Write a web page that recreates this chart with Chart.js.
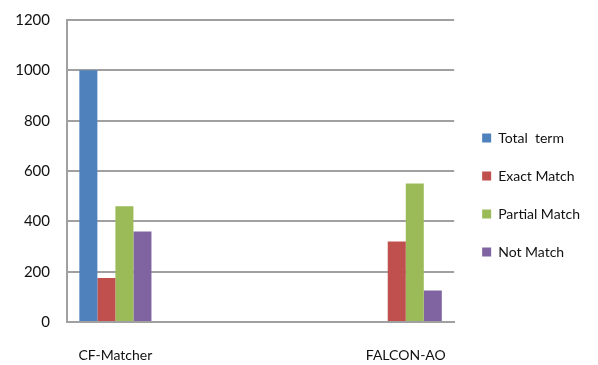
<!DOCTYPE html>
<html>
<head>
<meta charset="utf-8">
<script src="https://cdn.jsdelivr.net/npm/chart.js@4.4.1/dist/chart.umd.min.js"></script>
<style>
  html, body { margin: 0; padding: 0; background: #fff; }
  #wrap { width: 598px; height: 365px; }
</style>
</head>
<body>
<div id="wrap"><canvas id="c" width="598" height="365"></canvas></div>
<script>
// Categories (the two middle slots are empty, as in the original)
const categories = ['CF-Matcher', '', '', 'FALCON-AO'];
const seriesNames = ['Total  term', 'Exact Match', 'Partial Match', 'Not Match'];
const totalTerm    = [1000, null, null, null];
const exactMatch   = [175,  null, null, 320];
const partialMatch = [460,  null, null, 550];
const notMatch     = [360,  null, null, 125];
const yTicks = [0, 200, 400, 600, 800, 1000, 1200];
const colors = ['#4F81BD', '#C0504D', '#9BBB59', '#8064A2'];

const values = [totalTerm, exactMatch, partialMatch, notMatch];
const datasets = seriesNames.map((name, i) => ({
  label: name,
  data: values[i],
  backgroundColor: colors[i],
  borderWidth: 0,
  barPercentage: 1.0,
  categoryPercentage: 0.745
}));

const FONT = 'Lato, "Open Sans", sans-serif';
const TXT = '#111';

new Chart(document.getElementById('c'), {
  type: 'bar',
  data: { labels: categories, datasets: datasets },
  options: {
    responsive: false,
    animation: false,
    devicePixelRatio: 1,
    layout: { padding: { top: 20, left: 0, right: 8, bottom: 0 } },
    plugins: {
      tooltip: { enabled: false },
      legend: {
        position: 'right',
        maxWidth: 139,
        title: { display: true, text: '', font: { size: 1, lineHeight: 1 }, padding: { top: 0, bottom: 4 } },
        labels: {
          boxWidth: 9,
          boxHeight: 9,
          padding: 24,
          color: TXT,
          font: { family: FONT, size: 14 }
        }
      }
    },
    scales: {
      x: {
        grid: { display: false, drawTicks: false },
        border: { display: true, color: '#a0a0a0', width: 2 },
        afterFit: (s) => { s.height = 43; },
        ticks: {
          padding: 25,
          color: TXT,
          maxRotation: 0,
          autoSkip: false,
          font: { family: FONT, size: 14 }
        }
      },
      y: {
        min: 0,
        max: 1200,
        afterBuildTicks: (s) => { s.ticks = yTicks.map(v => ({ value: v })); },
        afterFit: (s) => { s.width = 67; },
        grid: { color: '#a0a0a0', lineWidth: 2, drawTicks: true, tickLength: 17, tickColor: 'rgba(0,0,0,0)' },
        border: { display: true, color: '#a0a0a0', width: 2 },
        ticks: {
          padding: 0,
          color: TXT,
          callback: (v) => String(v),
          font: { family: FONT, size: 15 }
        }
      },
      y2: {
        position: 'right',
        display: true,
        grid: { display: false, drawTicks: false },
        border: { display: false },
        ticks: { display: false },
        afterFit: (s) => { s.width = 4; }
      }
    }
  }
});
</script>
</body>
</html>
